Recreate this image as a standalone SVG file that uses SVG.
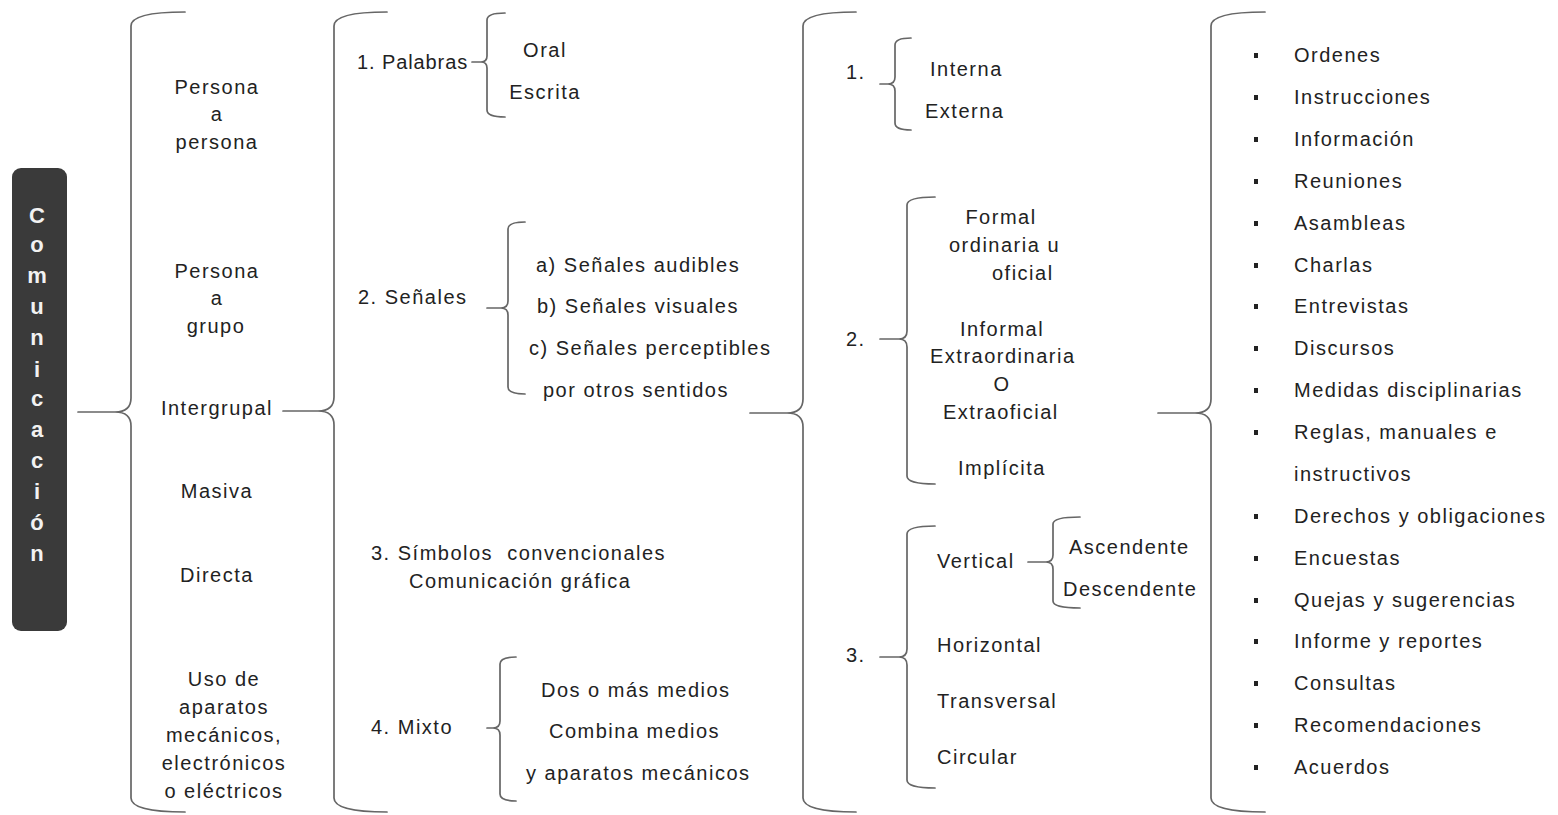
<svg xmlns="http://www.w3.org/2000/svg" width="1558" height="815" viewBox="0 0 1558 815">
<style>
.t{font-family:"Liberation Sans",Arial,sans-serif;font-size:20px;fill:#222;letter-spacing:1.5px}
.m{text-anchor:middle}
.br{fill:none;stroke:#666;stroke-width:1.7;stroke-linejoin:round;stroke-linecap:round}
.bl{fill:#222}
.v{font-family:"Liberation Sans",Arial,sans-serif;font-size:22px;font-weight:bold;fill:#f2f2f2;text-anchor:middle}
</style>
<rect width="1558" height="815" fill="#fff"/>
<g id="comunicacion">
<rect x="12" y="168" width="55" height="463" rx="9" fill="#3a3a3a"/>
<text class="v"><tspan x="37" y="223">C</tspan><tspan x="37" y="252">o</tspan><tspan x="37" y="283">m</tspan><tspan x="37" y="314">u</tspan><tspan x="37" y="345">n</tspan><tspan x="37" y="377">i</tspan><tspan x="37" y="406">c</tspan><tspan x="37" y="437">a</tspan><tspan x="37" y="468">c</tspan><tspan x="37" y="499">i</tspan><tspan x="37" y="530">ó</tspan><tspan x="37" y="561">n</tspan></text>
</g>
<g id="connectors">
<path class="br" d="M185,12 Q131,12 131,26 L131,398 Q131,412 115,412 L78,412 L115,412 Q131,412 131,426 L131,798 Q131,812 185,812"/>
<path class="br" d="M387,12 Q334,12 334,26 L334,397 Q334,411 318,411 L283,411 L318,411 Q334,411 334,425 L334,798 Q334,812 387,812"/>
<path class="br" d="M856,12 Q803,12 803,26 L803,399 Q803,413 787,413 L750,413 L787,413 Q803,413 803,427 L803,798 Q803,812 856,812"/>
<path class="br" d="M1265,12 Q1211,12 1211,26 L1211,399 Q1211,413 1195,413 L1158,413 L1195,413 Q1211,413 1211,427 L1211,798 Q1211,812 1265,812"/>
<path class="br" d="M505,13 Q487,13 487,20 L487,56 Q487,62 481,62 L472,62 L481,62 Q487,62 487,68 L487,110 Q487,117 505,117"/>
<path class="br" d="M525,222 Q508,222 508,229 L508,301 Q508,308 501,308 L487,308 L501,308 Q508,308 508,315 L508,387 Q508,394 525,394"/>
<path class="br" d="M516,657 Q500,657 500,664 L500,721 Q500,728 493,728 L487,728 L493,728 Q500,728 500,735 L500,794 Q500,801 516,801"/>
<path class="br" d="M911,38 Q895,38 895,45 L895,77 Q895,84 888,84 L880,84 L888,84 Q895,84 895,91 L895,123 Q895,130 911,130"/>
<path class="br" d="M935,197 Q907,197 907,205 L907,331 Q907,339 899,339 L880,339 L899,339 Q907,339 907,347 L907,476 Q907,484 935,484"/>
<path class="br" d="M935,526 Q907,526 907,534 L907,649 Q907,657 899,657 L880,657 L899,657 Q907,657 907,665 L907,780 Q907,788 935,788"/>
<path class="br" d="M1080,517 Q1053,517 1053,524 L1053,555 Q1053,562 1046,562 L1028,562 L1046,562 Q1053,562 1053,569 L1053,601 Q1053,608 1080,608"/>
</g>
<g id="tipos">
<text class="t m" x="217" y="94">Persona</text>
<text class="t m" x="217" y="121">a</text>
<text class="t m" x="217" y="149">persona</text>
<text class="t m" x="217" y="278">Persona</text>
<text class="t m" x="217" y="305">a</text>
<text class="t m" x="216" y="333">grupo</text>
<text class="t m" x="217" y="415">Intergrupal</text>
<text class="t m" x="217" y="498">Masiva</text>
<text class="t m" x="217" y="582">Directa</text>
<text class="t m" x="224" y="686">Uso de</text>
<text class="t m" x="224" y="714">aparatos</text>
<text class="t m" x="224" y="742">mecánicos,</text>
<text class="t m" x="224" y="770">electrónicos</text>
<text class="t m" x="224" y="798">o eléctricos</text>
</g>
<g id="medios">
<text class="t" x="357" y="69" style="letter-spacing:0.9px">1. Palabras</text>
<text class="t m" x="545" y="57">Oral</text>
<text class="t m" x="545" y="99">Escrita</text>
<text class="t" x="358" y="304">2. Señales</text>
<text class="t" x="536" y="272">a) Señales audibles</text>
<text class="t" x="537" y="313">b) Señales visuales</text>
<text class="t" x="529" y="355">c) Señales perceptibles</text>
<text class="t" x="543" y="397">por otros sentidos</text>
<text class="t" x="371" y="560">3. Símbolos&#160; convencionales</text>
<text class="t" x="409" y="588">Comunicación gráfica</text>
<text class="t" x="371" y="734">4. Mixto</text>
<text class="t" x="541" y="697">Dos o más medios</text>
<text class="t" x="549" y="738">Combina medios</text>
<text class="t" x="526" y="780">y aparatos mecánicos</text>
</g>
<g id="clasificacion">
<text class="t" x="846" y="79">1.</text>
<text class="t" x="930" y="76">Interna</text>
<text class="t" x="925" y="118">Externa</text>
<text class="t" x="846" y="346">2.</text>
<text class="t m" x="1001" y="224">Formal</text>
<text class="t" x="949" y="252">ordinaria u</text>
<text class="t" x="992" y="280">oficial</text>
<text class="t m" x="1002" y="336">Informal</text>
<text class="t" x="930" y="363">Extraordinaria</text>
<text class="t m" x="1002" y="391">O</text>
<text class="t" x="943" y="419">Extraoficial</text>
<text class="t" x="958" y="475">Implícita</text>
<text class="t" x="846" y="662">3.</text>
<text class="t" x="937" y="568">Vertical</text>
<text class="t" x="1069" y="554">Ascendente</text>
<text class="t" x="1063" y="596">Descendente</text>
<text class="t" x="937" y="652">Horizontal</text>
<text class="t" x="937" y="708">Transversal</text>
<text class="t" x="937" y="764">Circular</text>
</g>
<g id="formas">
<rect class="bl" x="1254" y="53" width="4" height="5"/>
<rect class="bl" x="1254" y="95" width="4" height="5"/>
<rect class="bl" x="1254" y="137" width="4" height="5"/>
<rect class="bl" x="1254" y="179" width="4" height="5"/>
<rect class="bl" x="1254" y="221" width="4" height="5"/>
<rect class="bl" x="1254" y="263" width="4" height="5"/>
<rect class="bl" x="1254" y="304" width="4" height="5"/>
<rect class="bl" x="1254" y="346" width="4" height="5"/>
<rect class="bl" x="1254" y="388" width="4" height="5"/>
<rect class="bl" x="1254" y="430" width="4" height="5"/>
<rect class="bl" x="1254" y="514" width="4" height="5"/>
<rect class="bl" x="1254" y="556" width="4" height="5"/>
<rect class="bl" x="1254" y="598" width="4" height="5"/>
<rect class="bl" x="1254" y="639" width="4" height="5"/>
<rect class="bl" x="1254" y="681" width="4" height="5"/>
<rect class="bl" x="1254" y="723" width="4" height="5"/>
<rect class="bl" x="1254" y="765" width="4" height="5"/>
<text class="t" x="1294" y="62">Ordenes</text>
<text class="t" x="1294" y="104">Instrucciones</text>
<text class="t" x="1294" y="146">Información</text>
<text class="t" x="1294" y="188">Reuniones</text>
<text class="t" x="1294" y="230">Asambleas</text>
<text class="t" x="1294" y="272">Charlas</text>
<text class="t" x="1294" y="313">Entrevistas</text>
<text class="t" x="1294" y="355">Discursos</text>
<text class="t" x="1294" y="397">Medidas disciplinarias</text>
<text class="t" x="1294" y="439">Reglas, manuales e</text>
<text class="t" x="1294" y="481">instructivos</text>
<text class="t" x="1294" y="523">Derechos y obligaciones</text>
<text class="t" x="1294" y="565">Encuestas</text>
<text class="t" x="1294" y="607">Quejas y sugerencias</text>
<text class="t" x="1294" y="648">Informe y reportes</text>
<text class="t" x="1294" y="690">Consultas</text>
<text class="t" x="1294" y="732">Recomendaciones</text>
<text class="t" x="1294" y="774">Acuerdos</text>
</g>
</svg>
